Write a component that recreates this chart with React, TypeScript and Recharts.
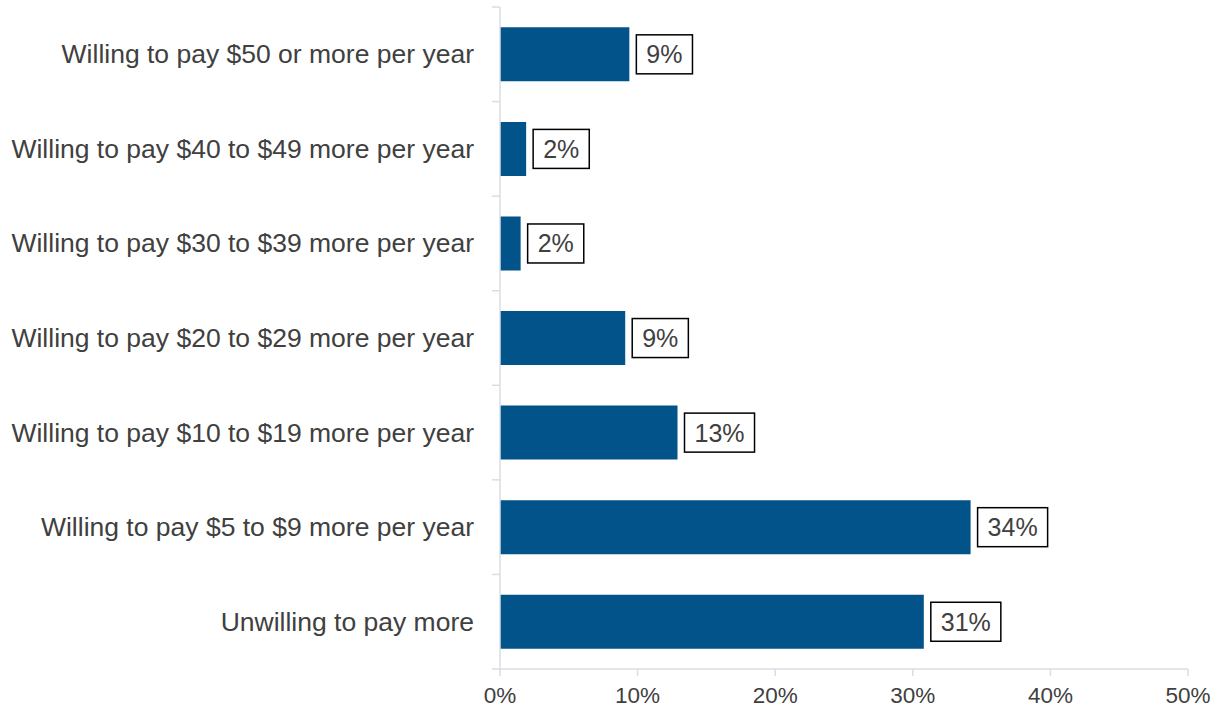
import { BarChart, Bar, XAxis, YAxis, LabelList } from 'recharts';

const categories = [
  'Willing to pay $50 or more per year',
  'Willing to pay $40 to $49 more per year',
  'Willing to pay $30 to $39 more per year',
  'Willing to pay $20 to $29 more per year',
  'Willing to pay $10 to $19 more per year',
  'Willing to pay $5 to $9 more per year',
  'Unwilling to pay more',
];
const shares = [9.4, 1.9, 1.5, 9.1, 12.9, 34.2, 30.8];
const shareLabels = ['9%', '2%', '2%', '9%', '13%', '34%', '31%'];
const xTicks = [0, 10, 20, 30, 40, 50];

const data = categories.map((name, i) => ({ name, value: shares[i], label: shareLabels[i] }));

const AXIS_COLOR = '#d9dee3';
const TEXT_COLOR = '#404040';
const BAR_COLOR = '#02538a';
const CHART_H = 710;
const MARGIN_TOP = 7;
const X_AXIS_H = 41;
const TICK_SIZE = 8;
const TICK_MARGIN = 18;

const bandHalf = (CHART_H - MARGIN_TOP - X_AXIS_H) / categories.length / 2;

// rough Arial widths, good enough to size the label boxes
function textWidth(s: string, fontSize: number) {
  let w = 0;
  for (const ch of s) w += ch === '%' ? 0.889 : 0.556;
  return w * fontSize;
}

const CategoryTick = (props: any) => {
  const { x, y, payload, index } = props;
  const lineX1 = x + TICK_MARGIN;
  const lineX2 = x + TICK_MARGIN + TICK_SIZE;
  return (
    <g>
      <line x1={lineX1} x2={lineX2} y1={y - bandHalf} y2={y - bandHalf} stroke={AXIS_COLOR} strokeWidth={1.5} />
      {index === categories.length - 1 && (
        <line x1={lineX1} x2={lineX2} y1={y + bandHalf} y2={y + bandHalf} stroke={AXIS_COLOR} strokeWidth={1.5} />
      )}
      <text x={x} y={y} textAnchor="end" dominantBaseline="central" fill={TEXT_COLOR} fontSize={26.5}>
        {payload.value}
      </text>
    </g>
  );
};

const BoxLabel = (props: any) => {
  const { x, y, width, height, value } = props;
  const fs = 25;
  const w = textWidth(String(value), fs) + 20;
  const h = 39;
  const bx = x + width + 7;
  const cy = y + height / 2;
  return (
    <g>
      <rect x={bx} y={cy - h / 2} width={w} height={h} fill="#fff" stroke="#000" strokeWidth={1.5} />
      <text x={bx + w / 2} y={cy} textAnchor="middle" dominantBaseline="central" fill={TEXT_COLOR} fontSize={fs}>
        {value}
      </text>
    </g>
  );
};

export default function App() {
  return (
    <div style={{ position: 'absolute', left: 0, top: 0, background: '#fff', fontFamily: '"Liberation Sans", Arial, sans-serif' }}>
      <BarChart
        width={1221}
        height={CHART_H}
        data={data}
        layout="vertical"
        margin={{ top: MARGIN_TOP, right: 33, left: 0, bottom: 0 }}
        barCategoryGap="21.5%"
      >
        <XAxis
          type="number"
          domain={[0, 50]}
          ticks={xTicks}
          tickFormatter={(v: number) => `${v}%`}
          height={X_AXIS_H}
          stroke={AXIS_COLOR}
          strokeWidth={1.5}
          tickSize={7}
          tickMargin={11}
          tick={{ fill: TEXT_COLOR, fontSize: 22.5 }}
        />
        <YAxis
          type="category"
          dataKey="name"
          width={500}
          stroke={AXIS_COLOR}
          strokeWidth={1.5}
          tickLine={false}
          tickSize={TICK_SIZE}
          tickMargin={TICK_MARGIN}
          interval={0}
          tick={<CategoryTick />}
        />
        <Bar dataKey="value" fill={BAR_COLOR} isAnimationActive={false}>
          <LabelList dataKey="label" content={<BoxLabel />} />
        </Bar>
      </BarChart>
    </div>
  );
}
